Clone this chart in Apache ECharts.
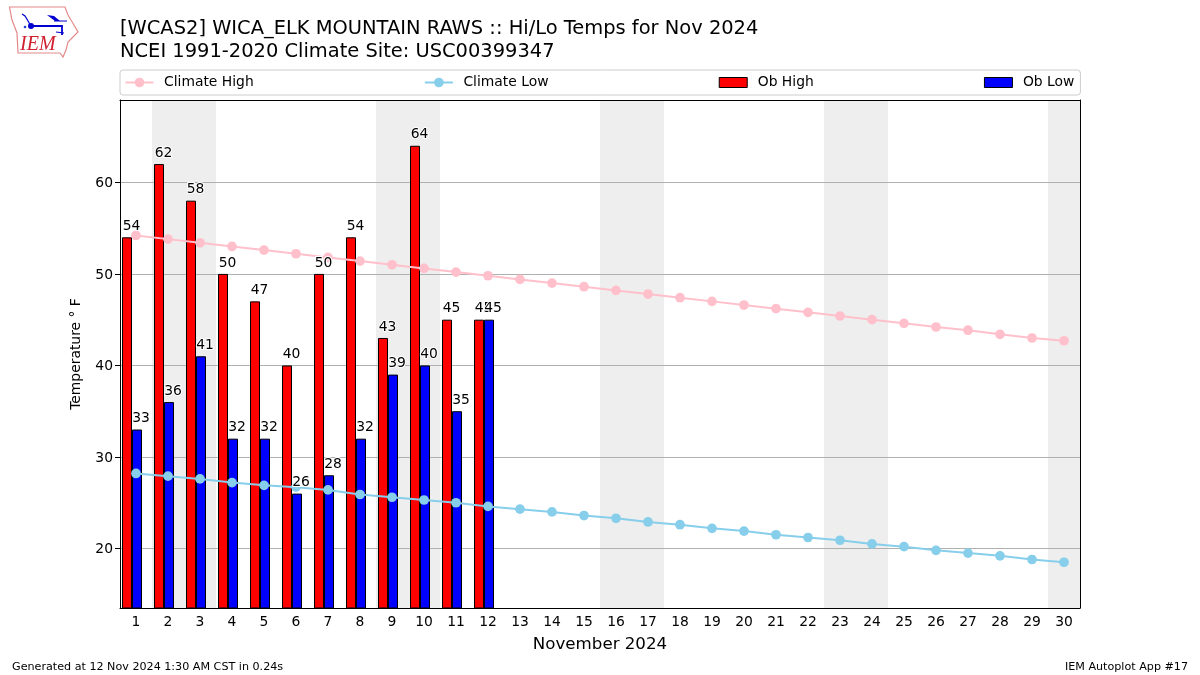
<!DOCTYPE html>
<html>
<head>
<meta charset="utf-8">
<style>html,body{margin:0;padding:0;background:#fff}#c{width:1200px;height:675px}</style>
<script src="https://cdn.jsdelivr.net/npm/echarts@6/dist/echarts.min.js"></script>
</head>
<body>
<div id="c"></div>
<script>
const days = ['1','2','3','4','5','6','7','8','9','10','11','12','13','14','15','16','17','18','19','20','21','22','23','24','25','26','27','28','29','30'];
const climateHigh = [54.2,53.8,53.4,53.0,52.6,52.2,51.8,51.4,51.0,50.6,50.2,49.8,49.4,49.0,48.6,48.2,47.8,47.4,47.0,46.6,46.2,45.8,45.4,45.0,44.6,44.2,43.85,43.4,43.0,42.7];
const climateLow = [28.2,27.9,27.6,27.2,26.9,26.7,26.4,25.9,25.6,25.3,25.0,24.6,24.3,24.0,23.6,23.3,22.9,22.6,22.2,21.9,21.5,21.2,20.9,20.5,20.2,19.8,19.5,19.2,18.8,18.5];
const obHigh = [54,62,58,50,47,40,50,54,43,64,45,45];
const obLow = [33,36,41,32,32,26,28,32,39,40,35,45];
const yTicks = [20,30,40,50,60];
const weekendSpans = [[1.5,3.5],[8.5,10.5],[15.5,17.5],[22.5,24.5],[29.5,30.5]];

const FONT = '"DejaVu Sans"';
const BAR_ICON = 'path://M0 0L0 0M0 1L28 1L28 11L0 11ZM0 12L0 12';
const legendBarStyle = { borderColor: '#000', borderWidth: 1 };
function barSeries(name, data, color, width) {
  return { name, type: 'bar', data, barWidth: width, barGap: 0, z: 3,
    itemStyle: { color, borderColor: '#000', borderWidth: 1 } };
}
function labelSeries(name, data, dx) {
  return { name, type: 'scatter', data, symbol: 'circle', symbolSize: 0.01, z: 5, silent: true,
    itemStyle: { color: 'transparent', opacity: 1 },
    label: { show: true, position: 'top', distance: 4, offset: [dx, 0],
      color: '#000', fontFamily: FONT, fontSize: 13.89, opacity: 1,
      textBorderColor: '#fff', textBorderWidth: 2 } };
}
function lineSeries(name, data, color) {
  return { name, type: 'line', data, symbol: 'circle', symbolSize: 9.7, z: 4,
    lineStyle: { color, width: 2 }, itemStyle: { color }, showSymbol: true };
}
const chart = echarts.init(document.getElementById('c'), null, { renderer: 'canvas' });
chart.setOption({
  animation: false,
  backgroundColor: '#fff',
  title: [
    { text: '[WCAS2] WICA_ELK MOUNTAIN RAWS :: Hi/Lo Temps for Nov 2024\nNCEI 1991-2020 Climate Site: USC00399347',
      left: 120, top: 17, padding: 0,
      textStyle: { fontFamily: FONT, fontSize: 19.44, fontWeight: 'normal', color: '#000', lineHeight: 23 } },
    { text: 'Generated at 12 Nov 2024 1:30 AM CST in 0.24s', left: 12, top: 661, padding: 0,
      textStyle: { fontFamily: FONT, fontSize: 11.15, fontWeight: 'normal', color: '#000', lineHeight: 13 } },
    { text: 'IEM Autoplot App #17', right: 12, top: 661, padding: 0,
      textStyle: { fontFamily: FONT, fontSize: 11.15, fontWeight: 'normal', color: '#000', lineHeight: 13 } }
  ],
  legend: {
    data: [
      { name: 'Climate High' },
      { name: 'Climate Low' },
      { name: 'Ob High', icon: BAR_ICON, itemStyle: legendBarStyle },
      { name: 'Ob Low', icon: BAR_ICON, itemStyle: legendBarStyle }
    ],
    left: 120, top: 70, orient: 'horizontal',
    padding: [4.5, 6, 4.5, 4.5], itemGap: 170.2, itemWidth: 28, itemHeight: 12,
    borderColor: '#ccc', borderWidth: 1, borderRadius: 3,
    selectedMode: false,
    textStyle: { fontFamily: FONT, fontSize: 13.89, color: '#000', padding: [0,0,0,5.5], lineHeight: 16 }
  },
  grid: { left: 120, right: 120, top: 100, bottom: 67, containLabel: false },
  xAxis: [
    { type: 'category', data: days, boundaryGap: true, position: 'bottom', z: 2.5,
      name: 'November 2024', nameLocation: 'middle', nameGap: 28,
      nameTextStyle: { fontFamily: FONT, fontSize: 16.67, color: '#000' },
      axisLine: { lineStyle: { color: '#000', width: 1 } },
      axisTick: { alignWithLabel: true, length: 5, lineStyle: { color: '#000' } },
      axisLabel: { interval: 0, margin: 7, fontFamily: FONT, fontSize: 13.89, color: '#000' },
      splitLine: { show: false } },
    { type: 'value', min: 0.5, max: 30.5, position: 'top', z: 2.5,
      axisLine: { show: true, onZero: false, lineStyle: { color: '#000', width: 1 } },
      axisTick: { show: false }, axisLabel: { show: false }, splitLine: { show: false } }
  ],
  yAxis: [
    { type: 'value', min: 13.5, max: 69, z: 2.5,
      name: 'Temperature ° F',
      nameLocation: 'middle', nameGap: 37, nameRotate: 90,
      nameTextStyle: { fontFamily: FONT, fontSize: 13.89, color: '#000' },
      axisLine: { show: true, onZero: false, lineStyle: { color: '#000', width: 1 } },
      axisTick: { show: true, length: 5, customValues: yTicks, lineStyle: { color: '#000' } },
      axisLabel: { customValues: yTicks, margin: 7, formatter: '{t|{value}}',
        rich: { t: { fontFamily: FONT, fontSize: 13.89, color: '#000', padding: [2, 0, 0, 0] } } },
      splitLine: { show: true, lineStyle: { color: '#b0b0b0', width: 1, type: 'solid' } } },
    { type: 'value', min: 13.5, max: 69, position: 'right', z: 2.5,
      axisLine: { show: true, onZero: false, lineStyle: { color: '#000', width: 1 } },
      axisTick: { show: false }, axisLabel: { show: false }, splitLine: { show: false } }
  ],
  series: [
    { type: 'line', name: 'Weekend', xAxisIndex: 1, yAxisIndex: 0, data: [], z: 1, silent: true,
      markArea: { silent: true, z: 1, itemStyle: { color: '#eeeeee' },
        data: weekendSpans.map(s => [{ xAxis: s[0] }, { xAxis: s[1] }]) } },
    barSeries('Ob High', obHigh, '#ff0000', 10),
    barSeries('Ob Low', obLow, '#0000ff', 10),
    { type: 'bar', name: 'spacer', data: [], barWidth: 8, barGap: 0 },
    lineSeries('Climate High', climateHigh, '#ffc0cb'),
    lineSeries('Climate Low', climateLow, '#87ceeb'),
    labelSeries('Ob High labels', obHigh, -4.5),
    labelSeries('Ob Low labels', obLow, 5)
  ],
  graphic: [
    { type: 'polygon', silent: true, z: 10, shape: { points: [[9.5,7],[65,7],[68,15],[71,20],[78,32],[72,38],[68,42],[66,50],[63,57],[60,53],[18,53],[17,33],[12,20]] },
      style: { fill: '#fff', stroke: '#e58a8a', lineWidth: 1.2 } },
    { type: 'polyline', silent: true, z: 11, shape: { points: [[30,26],[62,26],[62,35]] }, style: { stroke: '#0000d0', lineWidth: 1.8, fill: null } },
    { type: 'polyline', silent: true, z: 11, shape: { points: [[31,26],[25,16],[22,14]] }, style: { stroke: '#0000d0', lineWidth: 1.2, fill: null } },
    { type: 'circle', silent: true, z: 11, shape: { cx: 31, cy: 26, r: 3 }, style: { fill: '#0000d0' } },
    { type: 'polygon', silent: true, z: 11, shape: { points: [[47,15],[54,16],[60,21],[55,21]] }, style: { fill: '#0000d0' } },
    { type: 'polyline', silent: true, z: 11, shape: { points: [[54,21],[67,21]] }, style: { stroke: '#0000d0', lineWidth: 1, fill: null } },
    { type: 'polyline', silent: true, z: 11, shape: { points: [[56,32],[64,33]] }, style: { stroke: '#0000d0', lineWidth: 1, fill: null } },
    { type: 'circle', silent: true, z: 11, shape: { cx: 25, cy: 27, r: 1.3 }, style: { fill: '#2040d0' } },
    { type: 'text', silent: true, z: 11, left: 20, top: 35, style: { text: 'IEM', fill: '#d02030', font: 'italic 20px "Liberation Serif"' } }
  ]
});
</script>
</body>
</html>
